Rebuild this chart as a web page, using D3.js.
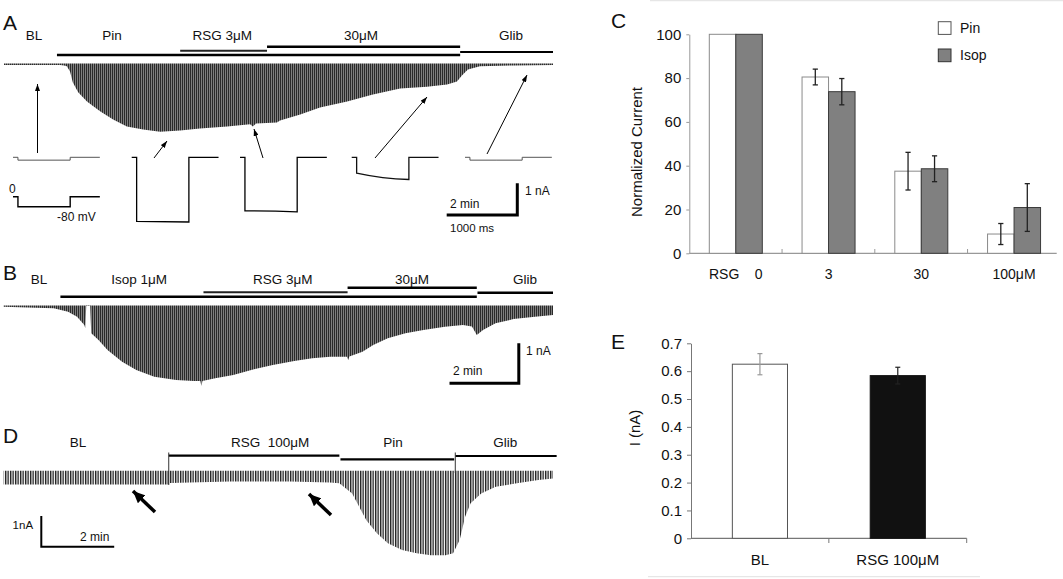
<!DOCTYPE html>
<html><head><meta charset="utf-8">
<script src="https://cdn.jsdelivr.net/npm/d3@7"></script>
<style>
body{margin:0;background:#fff}
svg{display:block;font-family:"Liberation Sans",Arial,Helvetica,sans-serif}
text{white-space:pre}
</style></head><body>
<svg id="c" width="1063" height="579"></svg>
<script>
// ================= DATA =================
// Panel A: peak current envelope (time in min, current in nA)
const aT = [0,1.59,1.70,1.78,1.87,1.95,2.10,2.35,2.72,3.09,3.48,3.94,4.42,4.99,5.55,6.32,6.97,7.05,7.14,7.73,7.82,8.39,8.95,9.72,10.45,11.22,11.98,12.55,12.83,12.97,13.14,13.48,14.42,15.55];
const aI = [-0.05,-0.05,-0.06,-0.09,-0.25,-0.60,-0.91,-1.20,-1.51,-1.77,-1.99,-2.08,-2.15,-2.11,-2.05,-1.99,-1.92,-1.99,-1.89,-1.86,-1.80,-1.61,-1.39,-1.20,-0.98,-0.79,-0.73,-0.66,-0.57,-0.38,-0.19,-0.09,-0.06,-0.05];
const aDrugs = ["Pin","RSG 3μM","30μM","Glib"];
const aDrugStart = [1.50,4.99,7.45,12.92];
const aDrugEnd = [12.92,7.45,12.92,15.55];
const aLabels = ["BL","Pin","RSG 3μM","30μM","Glib"];
const aLabelT = [0.85,3.06,6.18,10.11,14.36];
// Panel A example sweeps (ms, nA)
const sweepNames = ["BL","Pin","RSG 3μM","30μM","Glib"];
const sweepI0 = [-0.09,-2.02,-1.69,-0.50,-0.09];
const sweepIMid = [-0.09,-2.03,-1.70,-0.64,-0.09];
const sweepI1 = [-0.09,-2.04,-1.72,-0.70,-0.09];
const sweepTimes = [0,70,810,1230];
const protocolV = [0,-80];

// Panel B
const bT = [0,0.94,1.45,1.86,2.12,2.33,2.36,2.385,2.50,2.53,2.74,3.00,3.42,3.83,4.35,4.98,5.49,5.68,5.71,5.74,6.11,6.63,7.15,7.77,8.39,8.91,9.43,9.91,9.95,9.98,10.36,10.67,11.09,11.60,12.12,12.74,13.26,13.52,13.66,13.84,14.20,14.72,15.34,15.86];
const bI = [-0.03,-0.055,-0.07,-0.155,-0.28,-0.49,-0.57,-0.01,-0.01,-0.695,-0.86,-1.11,-1.405,-1.61,-1.78,-1.86,-1.89,-1.89,-2.01,-1.89,-1.82,-1.74,-1.61,-1.49,-1.39,-1.32,-1.28,-1.28,-1.36,-1.275,-1.155,-0.99,-0.82,-0.695,-0.61,-0.53,-0.49,-0.525,-0.74,-0.61,-0.445,-0.34,-0.28,-0.24];
const bDrugs = ["Isop 1μM","RSG 3μM","30μM","Glib"];
const bDrugStart = [1.64,5.77,9.93,13.68];
const bDrugEnd = [13.66,9.93,13.66,15.86];
const bLabels = ["BL","Isop 1μM","RSG 3μM","30μM","Glib"];
const bLabelT = [1.02,3.91,8.06,11.79,15.05];

// Panel D
const dT = [0,4.51,4.57,6.21,7.86,8.95,9.21,9.56,9.75,9.95,10.24,10.54,10.93,11.33,11.72,12.12,12.33,12.51,12.66,12.81,13.10,13.50,14.08,14.67,15.07];
const dI = [-0.45,-0.45,-0.40,-0.35,-0.35,-0.385,-0.41,-0.74,-1.17,-1.61,-2.04,-2.36,-2.58,-2.69,-2.75,-2.75,-2.69,-2.26,-1.50,-1.06,-0.74,-0.52,-0.41,-0.30,-0.25];
const dDrugs = ["RSG  100μM","Pin","Glib"];
const dDrugStart = [4.53,9.24,12.39];
const dDrugEnd = [9.21,12.36,15.17];
const dLabels = ["BL","RSG  100μM","Pin","Glib"];
const dLabelT = [2.04,7.31,10.68,13.76];

// Panel C
const cCats = ["RSG    0","3","30","100μM"];
const cSeries = ["Pin","Isop"];
const cPin = [100,80.5,37.5,8.8];
const cPinErr = [0,3.6,8.6,4.8];
const cIsop = [100,73.8,38.6,20.9];
const cIsopErr = [0,6.0,5.9,10.9];
const cTicks = [0,20,40,60,80,100];

// Panel E
const eCats = ["BL","RSG 100μM"];
const eVals = [0.625,0.584];
const eErr = [0.038,0.030];
const eTicks = [0,0.1,0.2,0.3,0.4,0.5,0.6,0.7];

// ================= DRAW =================
const svg = d3.select("#c");
const defs = svg.append("defs");
function stripes(id, period, w, color){
  const p = defs.append("pattern").attr("id",id).attr("patternUnits","userSpaceOnUse")
    .attr("width",period).attr("height",20);
  p.append("rect").attr("width",w).attr("height",20).attr("fill",color);
}
stripes("stA",2,1.6,"#2a2a2a");
stripes("stB",2,1.6,"#2a2a2a");
stripes("stD",2.5,1.35,"#1e1e1e");

function mk(id,len,wid){
  defs.append("marker").attr("id",id).attr("viewBox",`0 0 ${len} ${wid}`)
    .attr("refX",len).attr("refY",wid/2).attr("markerWidth",len).attr("markerHeight",wid)
    .attr("markerUnits","userSpaceOnUse").attr("orient","auto")
    .append("path").attr("d",`M0,0L${len},${wid/2}L0,${wid}Z`).attr("fill","#000");
}
mk("arrS",7,5);
mk("arrL",12,11);

function txt(x,y,s,size,anchor="start",fill="#111"){
  return svg.append("text").attr("x",x).attr("y",y).text(s)
    .attr("font-size",size).attr("text-anchor",anchor).attr("fill",fill);
}
function line(x1,y1,x2,y2,w,c="#000"){
  return svg.append("line").attr("x1",x1).attr("y1",y1).attr("x2",x2).attr("y2",y2)
    .attr("stroke",c).attr("stroke-width",w);
}
function trace(T,I,x,y,fill){
  const area = d3.area().x((d,i)=>x(T[i])).y0(y(0)).y1((d,i)=>y(I[i])).curve(d3.curveLinear);
  svg.append("path").datum(T).attr("d",area).attr("fill",`url(#${fill})`);
}
function drugBars(start,end,x,rows,widths,colors){
  start.forEach((s,i)=>line(x(s),rows[i],x(end[i]),rows[i],widths[i],colors[i]));
}
function labels(L,LT,x,y,size){
  L.forEach((s,i)=>txt(x(LT[i]),y,s,size,"middle"));
}
// corner at right (horizontal goes left)
function scaleBarR(cx,cy,hx,vy,w){
  svg.append("path").attr("d",`M${cx-hx},${cy}H${cx}V${cy-vy}`).attr("fill","none")
    .attr("stroke","#000").attr("stroke-width",w).attr("stroke-linejoin","miter");
}
// corner at left (horizontal goes right)
function scaleBarL(cx,cy,hx,vy,w){
  svg.append("path").attr("d",`M${cx},${cy-vy}V${cy}H${cx+hx}`).attr("fill","none")
    .attr("stroke","#000").attr("stroke-width",w).attr("stroke-linejoin","miter");
}

// ---------- Panel A ----------
const xA = d3.scaleLinear().domain([0,15.55]).range([4,553]);
const yA = d3.scaleLinear().domain([0,-1]).range([63.5,95.2]);
txt(3,30,"A",21);
labels(aLabels,aLabelT,xA,40,13.5);
drugBars(aDrugStart,aDrugEnd,xA,[55,50.7,46.7,52],[2.6,2,2.6,2.2],["#000","#222","#000","#000"]);
trace(aT,aI,xA,yA,"stA");

// sweeps
const xs = d3.scaleLinear().domain([0,1000]).range([0,70.6]);
const ys = d3.scaleLinear().domain([0,-1]).range([0,31.7]);
const insetX = [13,131.7,240,351.7,465];
const insetY = 157.3;
const sweepCol = ["#555","#000","#000","#111","#555"];
sweepNames.forEach((n,i)=>{
  const ox = insetX[i], oy = insetY;
  const X = t=>ox+xs(t), Y = v=>oy+ys(v);
  const p = d3.path();
  p.moveTo(X(sweepTimes[0]),Y(0));
  p.lineTo(X(sweepTimes[1]),Y(0));
  p.lineTo(X(sweepTimes[1]),Y(sweepI0[i]));
  const tm = (sweepTimes[1]+sweepTimes[2])/2;
  const cx = X(tm), cy = 2*Y(sweepIMid[i]) - (Y(sweepI0[i])+Y(sweepI1[i]))/2;
  p.quadraticCurveTo(cx,cy,X(sweepTimes[2]),Y(sweepI1[i]));
  p.lineTo(X(sweepTimes[2]),Y(0));
  p.lineTo(X(sweepTimes[3]),Y(0));
  svg.append("path").attr("d",p.toString()).attr("fill","none")
    .attr("stroke",sweepCol[i]).attr("stroke-width",(i==0||i==4)?1:1.3);
});
// voltage protocol
const yv = d3.scaleLinear().domain([0,-80]).range([196.7,206.7]);
{
  const ox = 13;
  const p = d3.path();
  p.moveTo(ox+xs(sweepTimes[0]),yv(protocolV[0]));
  p.lineTo(ox+xs(sweepTimes[1]),yv(protocolV[0]));
  p.lineTo(ox+xs(sweepTimes[1]),yv(protocolV[1]));
  p.lineTo(ox+xs(sweepTimes[2]),yv(protocolV[1]));
  p.lineTo(ox+xs(sweepTimes[2]),yv(protocolV[0]));
  p.lineTo(ox+xs(sweepTimes[3]),yv(protocolV[0]));
  svg.append("path").attr("d",p.toString()).attr("fill","none").attr("stroke","#000").attr("stroke-width",1.4);
}
txt(9,193,"0",12);
txt(57,221,"-80 mV",12);
// arrows A
[[37.5,153,37.5,84],[154,158,167,141],[263,158,254,129],[375,158,427,97],[487,154,527,75]].forEach(a=>{
  line(a[0],a[1],a[2],a[3],1).attr("marker-end","url(#arrS)");
});
// scale bars A
scaleBarR(517.3,215,xA(2)-xA(0),yA(-1)-yA(0),3);
txt(525,195,"1 nA",12);
txt(450,208,"2 min",12);
txt(450,232,"1000 ms",11.5);

// ---------- Panel B ----------
const xB = d3.scaleLinear().domain([0,15.86]).range([3.6,553]);
const yB = d3.scaleLinear().domain([0,-1]).range([305.5,345.5]);
txt(3,280,"B",21);
labels(bLabels,bLabelT,xB,284,13.5);
drugBars(bDrugStart,bDrugEnd,xB,[296.7,292.3,287.7,292.7],[2.6,2,2.6,2.4],["#000","#222","#000","#000"]);
trace(bT,bI,xB,yB,"stB");
scaleBarR(518.8,383.3,xB(2)-xB(0),yB(-1)-yB(0),3);
txt(526,355,"1 nA",12);
txt(453,375,"2 min",12);

// ---------- Panel D ----------
const xD = d3.scaleLinear().domain([0,15.07]).range([3.6,553]);
const yD = d3.scaleLinear().domain([0,-1]).range([470.7,501.4]);
txt(3,443,"D",21);
labels(dLabels,dLabelT,xD,447,13.5);
drugBars(dDrugStart,dDrugEnd,xD,[455.7,459.3,456],[2.2,2.2,2.2],["#000","#000","#000"]);
trace(dT,dI,xD,yD,"stD");
line(xD(dDrugStart[0]),452.5,xD(dDrugStart[0]),485,1,"#333");
line(xD(dDrugStart[2]),452.5,xD(dDrugStart[2]),473,1,"#333");
[[155,512,133,491],[331,515,309,494]].forEach(a=>{
  line(a[0],a[1],a[2],a[3],3.5).attr("marker-end","url(#arrL)");
});
scaleBarL(41.3,546.7,xD(2)-xD(0),yD(-1)-yD(0),2);
txt(12.6,529,"1nA",11.5);
txt(80,541,"2 min",12);

// ---------- Panel C ----------
txt(611,28,"C",21);
const xC = d3.scaleBand().domain(cCats).range([689.3,1060.55]).paddingInner(0.4286).paddingOuter(0.2156);
const xCs = d3.scaleBand().domain(cSeries).range([0,xC.bandwidth()]);
const yC = d3.scaleLinear().domain([0,100]).range([253.3,34.3]);
const gC = svg.append("g");
const axC = gC.append("g").attr("transform","translate(689.3,0)")
  .call(d3.axisLeft(yC).tickValues(cTicks).tickSize(3).tickSizeOuter(0).tickPadding(5));
axC.select(".domain").attr("stroke","#999");
axC.selectAll(".tick line").attr("stroke","#999");
axC.selectAll("text").attr("font-size",15).attr("fill","#111").attr("font-family",null);
line(689.3,253.3,1056.7,253.3,1.2,"#999");
[1,2,3].forEach(i=>{const bx = 689.3 + i*xC.step(); line(bx,249,bx,253.3,1,"#999");});
const cData = [cPin,cIsop], cErr = [cPinErr,cIsopErr];
cSeries.forEach((s,si)=>{
  cCats.forEach((c,ci)=>{
    const x0 = xC(c)+xCs(s), w = xCs.bandwidth(), v = cData[si][ci];
    svg.append("rect").attr("x",x0).attr("y",yC(v)).attr("width",w).attr("height",yC(0)-yC(v))
      .attr("fill",si==0?"#fff":"#808080").attr("stroke",si==0?"#8a8a8a":"#3a3a3a").attr("stroke-width",1);
  });
});
cSeries.forEach((s,si)=>{
  cCats.forEach((c,ci)=>{
    const e = cErr[si][ci]; if(!e) return;
    const cx = xC(c)+xCs(s)+xCs.bandwidth()/2, v = cData[si][ci];
    line(cx,yC(v+e),cx,yC(v-e),1.3,"#222");
    line(cx-2.6,yC(v+e),cx+2.6,yC(v+e),1.3,"#222");
    line(cx-2.6,yC(v-e),cx+2.6,yC(v-e),1.3,"#222");
  });
});
cCats.forEach(c=>txt(xC(c)+xC.bandwidth()/2,279.3,c,14,"middle"));
cSeries.forEach((s,i)=>{
  svg.append("rect").attr("x",938.3).attr("y",21.7+i*27.3).attr("width",12.7).attr("height",12.7)
    .attr("fill",i==0?"#fff":"#808080").attr("stroke",i==0?"#555":"#333").attr("stroke-width",1);
  txt(960,32.7+i*27.3,s,14);
});
svg.append("text").attr("transform","translate(641.5,152) rotate(-90)").attr("text-anchor","middle")
  .attr("font-size",15).attr("fill","#111").text("Normalized Current");

// ---------- Panel E ----------
txt(611,349,"E",21);
const xE = d3.scaleBand().domain(eCats).range([691,966.7]);
const yE = d3.scaleLinear().domain([0,0.7]).range([538.3,343.3]);
const axE = svg.append("g").attr("transform","translate(691,0)")
  .call(d3.axisLeft(yE).tickValues(eTicks).tickSize(4).tickSizeOuter(0).tickPadding(5)
    .tickFormat(d=>d===0?"0":d3.format(".1f")(d)));
axE.select(".domain").attr("stroke","#777");
axE.selectAll(".tick line").attr("stroke","#777");
axE.selectAll("text").attr("font-size",15).attr("fill","#111").attr("font-family",null);
line(691,538.3,966.7,538.3,1.2,"#777");
[1,2].forEach(i=>{const bx = 691+i*xE.step(); line(bx,538.3,bx,543,1,"#777");});
const eW = xE.bandwidth()*0.4;
eCats.forEach((c,i)=>{
  const cx = xE(c)+xE.bandwidth()/2;
  svg.append("rect").attr("x",cx-eW/2).attr("y",yE(eVals[i])).attr("width",eW).attr("height",yE(0)-yE(eVals[i]))
    .attr("fill",i==0?"#fff":"#111").attr("stroke",i==0?"#555":"#111").attr("stroke-width",1);
  const col = i==0?"#999":"#222";
  line(cx,yE(eVals[i]+eErr[i]),cx,yE(eVals[i]-eErr[i]),1.2,col);
  line(cx-2.5,yE(eVals[i]+eErr[i]),cx+2.5,yE(eVals[i]+eErr[i]),1.2,col);
  line(cx-2.5,yE(eVals[i]-eErr[i]),cx+2.5,yE(eVals[i]-eErr[i]),1.2,col);
  txt(cx,565,c,15,"middle");
});
svg.append("text").attr("transform","translate(639.5,428) rotate(-90)").attr("text-anchor","middle")
  .attr("font-size",15).attr("fill","#111").text("I (nA)");

line(650,0.7,1063,0.7,1.2,"#e6e6e6");
line(648,576.7,980,576.7,1.2,"#e6e6e6");
</script>
</body></html>
